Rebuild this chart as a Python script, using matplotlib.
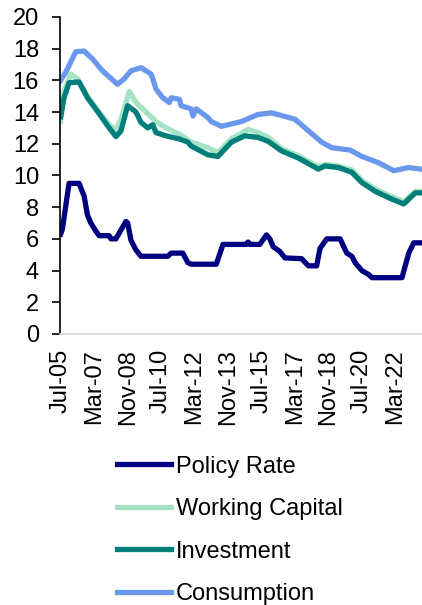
import pandas as pd
import matplotlib
matplotlib.use("Agg")
import matplotlib.pyplot as plt
import matplotlib.dates as mdates

plt.rcParams['font.family'] = ['Liberation Sans', 'DejaVu Sans']

# values (% p.a.), dates as YYYY-MM
policy_dates = ["2005-07", "2005-08", "2005-12", "2006-06", "2006-09", "2006-11", "2007-01",
                "2007-04", "2007-06", "2007-12", "2008-01", "2008-04", "2008-10", "2008-11",
                "2009-01", "2009-04", "2009-07", "2010-11", "2011-01", "2011-08", "2011-11",
                "2012-01", "2013-04", "2013-08", "2014-10", "2014-11", "2014-12", "2015-06",
                "2015-10", "2015-12", "2016-02", "2016-06", "2016-09", "2017-07", "2017-11",
                "2018-04", "2018-06", "2018-10", "2019-06", "2019-10", "2020-01", "2020-03",
                "2020-07", "2020-11", "2021-01", "2022-07", "2022-11", "2023-02", "2023-06"]
policy_rate = [6.3, 6.6, 9.5, 9.5, 8.7, 7.5, 7.0,
               6.5, 6.2, 6.2, 6.0, 6.0, 7.1, 7.0,
               5.9, 5.3, 4.9, 4.9, 5.1, 5.1, 4.5,
               4.4, 4.4, 5.65, 5.65, 5.8, 5.65, 5.65,
               6.25, 6.0, 5.5, 5.2, 4.8, 4.75, 4.3,
               4.3, 5.4, 6.0, 6.0, 5.1, 4.9, 4.5,
               4.0, 3.75, 3.55, 3.55, 5.1, 5.75, 5.75]

wc_dates = ["2005-07", "2005-09", "2006-01", "2006-05", "2006-11", "2007-06", "2007-12",
            "2008-04", "2008-07", "2008-12", "2009-04", "2009-11", "2010-04", "2010-10",
            "2011-06", "2012-01", "2012-11", "2013-05", "2014-01", "2014-11", "2015-05",
            "2015-11", "2016-07", "2017-05", "2018-05", "2018-09", "2019-05", "2020-01",
            "2020-07", "2021-03", "2022-01", "2022-08", "2023-03", "2023-06"]
working_capital = [13.4, 15.3, 16.4, 16.1, 15.0, 14.0, 13.2,
                   12.9, 13.5, 15.3, 14.6, 13.9, 13.4, 13.0,
                   12.6, 12.1, 11.75, 11.45, 12.3, 12.9, 12.7,
                   12.4, 11.7, 11.25, 10.55, 10.7, 10.6, 10.35,
                   9.7, 9.15, 8.65, 8.35, 9.0, 9.0]

inv_dates = ["2005-07", "2005-09", "2005-12", "2006-06", "2006-11", "2007-06", "2007-12",
             "2008-04", "2008-07", "2008-11", "2009-04", "2009-07", "2009-11", "2010-02",
             "2010-04", "2010-10", "2011-06", "2011-11", "2012-01", "2012-11", "2013-05",
             "2014-01", "2014-09", "2015-05", "2015-11", "2016-07", "2017-05", "2018-05",
             "2018-09", "2019-05", "2020-01", "2020-07", "2021-03", "2022-01", "2022-08",
             "2023-03", "2023-06"]
investment = [13.7, 14.9, 15.85, 15.9, 14.9, 13.9, 13.0,
              12.45, 12.8, 14.4, 14.0, 13.35, 13.0, 13.2,
              12.7, 12.5, 12.3, 12.1, 11.85, 11.3, 11.2,
              12.1, 12.5, 12.4, 12.15, 11.55, 11.1, 10.4,
              10.6, 10.5, 10.2, 9.55, 9.0, 8.5, 8.2,
              8.9, 8.9]

cons_dates = ["2005-07", "2005-10", "2006-04", "2006-09", "2007-02", "2007-08", "2008-05",
              "2008-09", "2009-01", "2009-07", "2010-01", "2010-02", "2010-04", "2010-08",
              "2010-12", "2011-01", "2011-06", "2011-07", "2012-01", "2012-02", "2012-04",
              "2012-11", "2013-01", "2013-07", "2014-07", "2015-05", "2016-01", "2017-03",
              "2018-07", "2019-01", "2019-12", "2020-07", "2021-05", "2022-02", "2022-11",
              "2023-06"]
consumption = [16.0, 16.5, 17.8, 17.85, 17.35, 16.6, 15.75,
               16.1, 16.6, 16.8, 16.4, 16.1, 15.45, 14.9,
               14.6, 14.9, 14.8, 14.4, 14.2, 13.75, 14.2,
               13.65, 13.4, 13.1, 13.4, 13.85, 13.95, 13.55,
               12.1, 11.75, 11.6, 11.2, 10.8, 10.3, 10.5,
               10.4]

tick_dates = pd.date_range("2005-07-01", periods=11, freq="20MS")

fig = plt.figure(figsize=(4.22, 6.05), dpi=100)
ax = fig.add_axes([0.142, 0.448, 0.858, 0.524])

lw = 3.8
ax.plot(pd.to_datetime(policy_dates), policy_rate, color="#000080", lw=lw, label="Policy Rate")
ax.plot(pd.to_datetime(wc_dates), working_capital, color="#A6E3C4", lw=lw, label="Working Capital")
ax.plot(pd.to_datetime(inv_dates), investment, color="#007F7A", lw=lw, label="Investment")
ax.plot(pd.to_datetime(cons_dates), consumption, color="#6A98EC", lw=lw, label="Consumption")

ax.set_ylim(0, 20)
ax.set_yticks(range(0, 21, 2))
ax.set_xlim(pd.Timestamp("2005-06-18"), pd.Timestamp("2023-06-30"))
ax.set_xticks(tick_dates)
ax.xaxis.set_major_formatter(mdates.DateFormatter("%b-%y"))
ax.tick_params(axis="x", length=0, labelsize=17, rotation=90, pad=11)
ax.tick_params(axis="y", length=6, width=1.2, labelsize=17, direction="out", pad=9)

for s in ["top", "right"]:
    ax.spines[s].set_visible(False)
ax.spines["left"].set_linewidth(1.2)
ax.spines["bottom"].set_color("#D9D9D9")
ax.spines["bottom"].set_linewidth(1.2)

fig.legend(loc="upper left", bbox_to_anchor=(0.277, 0.247), frameon=False,
           fontsize=17, handlelength=2.3, handletextpad=0.2, labelspacing=0.87,
           borderpad=0, borderaxespad=0)

fig.savefig("out.png", dpi=100)
